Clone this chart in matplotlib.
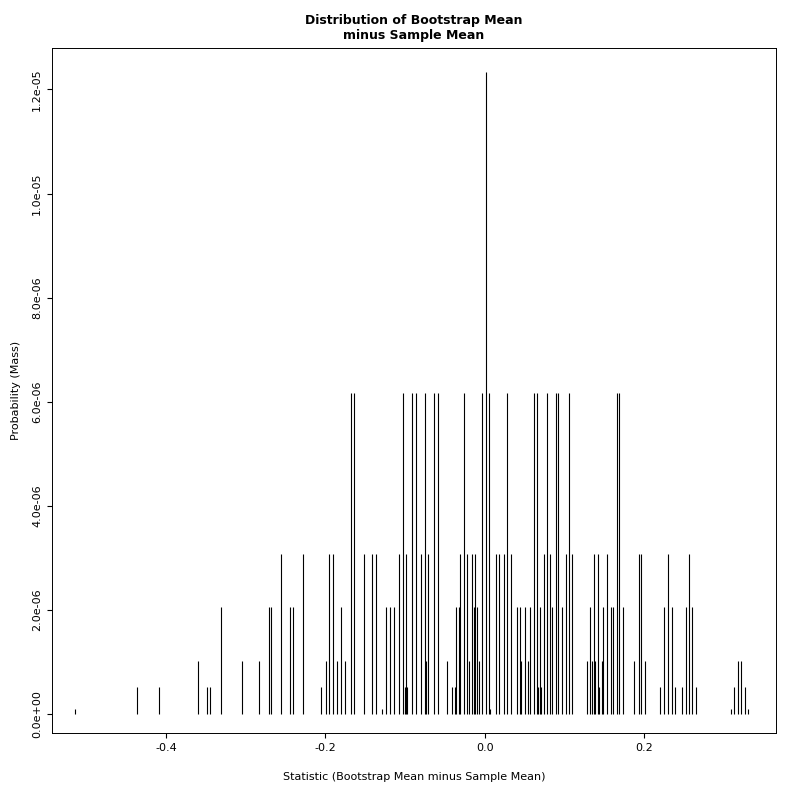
import matplotlib
matplotlib.use("Agg")
import matplotlib.pyplot as plt
import numpy as np

# statistic values (bootstrap mean minus sample mean) and their counts
stat = [-0.5136, -0.4366, -0.4090, -0.3601, -0.3488, -0.3450, -0.3312, -0.3049, -0.2836,
        -0.2710, -0.2685, -0.2560, -0.2447, -0.2409, -0.2284, -0.2058, -0.1995, -0.1957,
        -0.1907, -0.1857, -0.1807, -0.1757, -0.1681, -0.1644, -0.1518, -0.1418, -0.1368,
        -0.1292, -0.1242, -0.1192, -0.1142, -0.1079, -0.1029, -0.1004, -0.0992, -0.0979,
        -0.0916, -0.0866, -0.0803, -0.0753, -0.0740, -0.0715, -0.0640, -0.0590, -0.0477,
        -0.0414, -0.0376, -0.0364, -0.0326, -0.0314, -0.0263, -0.0226, -0.0201, -0.0163,
        -0.0138, -0.0125, -0.0100, -0.0075, -0.0038, 0.0013, 0.0050, 0.0063, 0.0138,
        0.0176, 0.0238, 0.0276, 0.0326, 0.0402, 0.0439, 0.0452, 0.0502, 0.0540, 0.0565,
        0.0615, 0.0652, 0.0665, 0.0690, 0.0703, 0.0740, 0.0778, 0.0816, 0.0841, 0.0891,
        0.0916, 0.0966, 0.1016, 0.1054, 0.1092, 0.1280, 0.1317, 0.1343, 0.1368, 0.1380,
        0.1418, 0.1430, 0.1468, 0.1481, 0.1531, 0.1581, 0.1606, 0.1656, 0.1681, 0.1732,
        0.1870, 0.1932, 0.1957, 0.2008, 0.2196, 0.2246, 0.2296, 0.2346, 0.2384, 0.2472,
        0.2522, 0.2560, 0.2597, 0.2647, 0.3087, 0.3124, 0.3174, 0.3212, 0.3262, 0.3300]
counts = [1, 5, 5, 10, 5, 5, 20, 10, 10,
          20, 20, 30, 20, 20, 30, 5, 10, 30,
          30, 10, 20, 10, 60, 60, 30, 30, 30,
          1, 20, 20, 20, 30, 60, 5, 30, 5,
          60, 60, 30, 60, 10, 30, 60, 60, 10,
          5, 5, 20, 20, 30, 60, 30, 10, 30,
          20, 30, 20, 10, 60, 120, 60, 1, 30,
          30, 30, 60, 30, 20, 20, 10, 20, 10, 20,
          60, 60, 5, 20, 5, 30, 60, 30, 20, 60,
          60, 20, 30, 60, 30, 10, 20, 10, 30, 10,
          30, 5, 10, 20, 30, 20, 20, 60, 60, 20,
          10, 30, 30, 10, 5, 20, 30, 20, 5, 5,
          20, 30, 20, 5, 1, 5, 10, 10, 5, 1]
mass_per_count = 1.028e-7

prob = np.array(counts) * mass_per_count

fig = plt.figure(figsize=(8, 7.96), dpi=100)
ax = fig.add_axes([0.065, 0.079, 0.905, 0.861])
ax.vlines(stat, 0, prob, colors="black", linewidth=0.8)
ax.set_xlim(-0.543, 0.365)
ax.set_ylim(-0.365e-6, 12.8e-6)
ax.set_xticks([-0.4, -0.2, 0.0, 0.2])
ax.set_xticklabels(["-0.4", "-0.2", "0.0", "0.2"])
yt = np.arange(0, 13e-6, 2e-6)
ax.set_yticks(yt)
ax.set_yticklabels(["%.1e" % v for v in yt], rotation=90, va="center")
ax.tick_params(labelsize=8)
ax.set_title("Distribution of Bootstrap Mean\nminus Sample Mean", fontsize=9, fontweight="bold")
ax.set_xlabel("Statistic (Bootstrap Mean minus Sample Mean)", fontsize=8, labelpad=14)
ax.set_ylabel("Probability (Mass)", fontsize=8, labelpad=8)
for s in ax.spines.values():
    s.set_linewidth(0.7)
fig.savefig("out.png", dpi=100)
